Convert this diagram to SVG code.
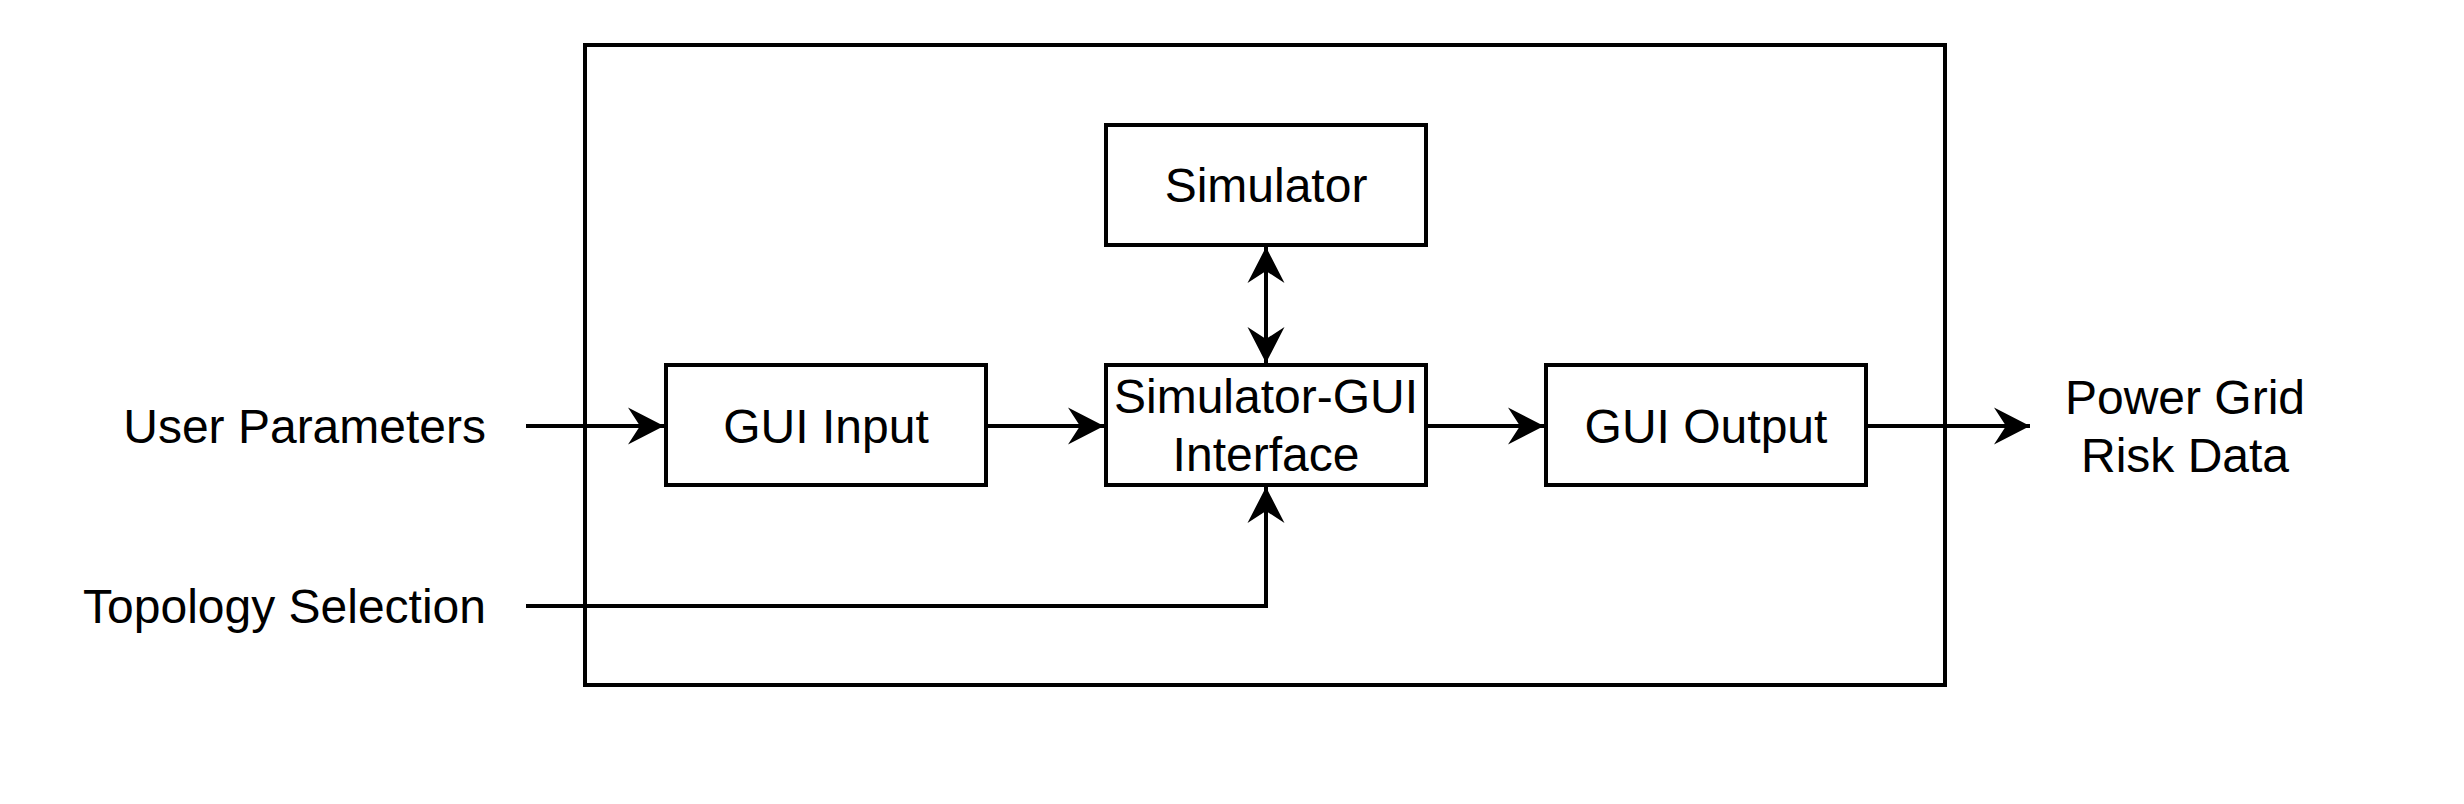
<svg xmlns="http://www.w3.org/2000/svg" width="2464" height="804" viewBox="0 0 2464 804">
<style>
.box{fill:#fff;stroke:#000;stroke-width:4}
.frame{fill:none;stroke:#000;stroke-width:4}
.ln{fill:none;stroke:#000;stroke-width:4}
text{font-family:"Liberation Sans",Arial,sans-serif;font-size:48px;fill:#000}
.c{text-anchor:middle}
.e{text-anchor:end}
</style>
<defs>
<marker id="arr" viewBox="-37 -20 38 40" refX="0" refY="0" markerWidth="38" markerHeight="40" markerUnits="userSpaceOnUse" orient="auto-start-reverse">
<path d="M0,0 L-36,-18.5 L-24,0 L-36,18.5 Z" fill="#000"/>
</marker>
</defs>
<rect width="2464" height="804" fill="#fff"/>
<g id="system">
<rect class="frame" x="585" y="45" width="1360" height="640"/>
</g>
<g id="connectors">
<line class="ln" x1="526" y1="426" x2="664" y2="426" marker-end="url(#arr)"/>
<line class="ln" x1="986" y1="426" x2="1104" y2="426" marker-end="url(#arr)"/>
<line class="ln" x1="1426" y1="426" x2="1544" y2="426" marker-end="url(#arr)"/>
<line class="ln" x1="1866" y1="426" x2="2030" y2="426" marker-end="url(#arr)"/>
<line class="ln" x1="1266" y1="247" x2="1266" y2="363" marker-start="url(#arr)" marker-end="url(#arr)"/>
<polyline class="ln" points="526,606 1266,606 1266,487" marker-end="url(#arr)"/>
</g>
<g id="simulator">
<rect class="box" x="1106" y="125" width="320" height="120"/>
<text class="c" x="1266" y="202">Simulator</text>
</g>
<g id="gui-input">
<rect class="box" x="666" y="365" width="320" height="120"/>
<text class="c" x="826" y="443">GUI Input</text>
</g>
<g id="interface">
<rect class="box" x="1106" y="365" width="320" height="120"/>
<text class="c" x="1266" y="413">Simulator-GUI</text>
<text class="c" x="1266" y="471">Interface</text>
</g>
<g id="gui-output">
<rect class="box" x="1546" y="365" width="320" height="120"/>
<text class="c" x="1706" y="443">GUI Output</text>
</g>
<g id="user-parameters">
<text class="e" x="486" y="443">User Parameters</text>
</g>
<g id="topology-selection">
<text class="e" x="486" y="623">Topology Selection</text>
</g>
<g id="risk-data">
<text class="c" x="2185" y="414">Power Grid</text>
<text class="c" x="2185" y="472">Risk Data</text>
</g>
</svg>
